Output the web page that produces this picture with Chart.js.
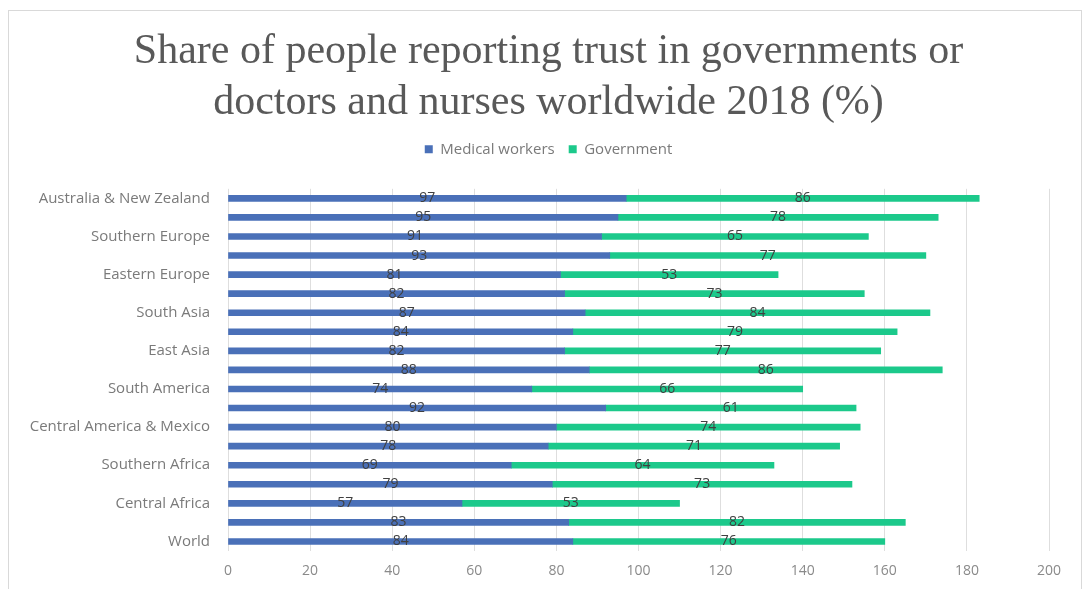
<!DOCTYPE html>
<html>
<head>
<meta charset="utf-8">
<script src="https://cdn.jsdelivr.net/npm/chart.js@4.4.1/dist/chart.umd.min.js"></script>
<style>
  html, body { margin: 0; padding: 0; background: #fff; }
  #wrap { width: 1089px; height: 589px; }
</style>
</head>
<body>
<div id="wrap"><canvas id="trustChart"></canvas></div>
<script>
// Regions (only every other name is printed on the axis, as in the original)
const regions = [
    'Australia & New Zealand', 'Northern Europe', 'Southern Europe', 'Western Europe',
    'Eastern Europe', 'Central Asia', 'South Asia', 'Southeast Asia', 'East Asia',
    'Northern America', 'South America', 'Middle East', 'Central America & Mexico',
    'North Africa', 'Southern Africa', 'Western Africa', 'Central Africa',
    'Eastern Africa', 'World'
];
const medicalWorkers = [97, 95, 91, 93, 81, 82, 87, 84, 82, 88, 74, 92, 80, 78, 69, 79, 57, 83, 84];
const government     = [86, 78, 65, 77, 53, 73, 84, 79, 77, 86, 66, 61, 74, 71, 64, 73, 53, 82, 76];
const xTicks = [0, 20, 40, 60, 80, 100, 120, 140, 160, 180, 200];

const labelFont = '"Open Sans", Lato, sans-serif';

// draws the value in the middle of each bar segment
const centreLabels = {
    id: 'centreLabels',
    afterDatasetsDraw(chart) {
        const ctx = chart.ctx;
        ctx.save();
        ctx.font = '14px ' + labelFont;
        ctx.fillStyle = '#404040';
        ctx.textAlign = 'center';
        ctx.textBaseline = 'middle';
        chart.data.datasets.forEach((ds, i) => {
            chart.getDatasetMeta(i).data.forEach((bar, j) => {
                const p = bar.getProps(['x', 'base', 'y'], true);
                ctx.fillText(ds.data[j], (p.x + p.base) / 2, p.y);
            });
        });
        ctx.restore();
    }
};

// outer frame of the chart
const frame = {
    id: 'frame',
    beforeDraw(chart) {
        const ctx = chart.ctx;
        ctx.save();
        ctx.strokeStyle = '#d9d9d9';
        ctx.lineWidth = 1;
        ctx.strokeRect(8.5, 10.5, 1073, 600);
        ctx.restore();
    }
};

// extra room below the legend, and centre title/legend over the plot a bit more to the right
const legendGap = {
    id: 'legendGap',
    beforeInit(chart) {
        const fit = chart.legend.fit;
        chart.legend.fit = function() {
            fit.bind(chart.legend)();
            this.height += 22;
        };
    },
    afterLayout(chart) {
        chart.titleBlock.left += 38;
        chart.legend.left += 38;
    }
};

const ctx = document.getElementById('trustChart').getContext('2d');
new Chart(ctx, {
    type: 'bar',
    data: {
        labels: regions,
        datasets: [
            {
                label: 'Medical workers',
                data: medicalWorkers,
                backgroundColor: '#4a70b8',
                barThickness: 6
            },
            {
                label: 'Government',
                data: government,
                backgroundColor: '#1cc98b',
                barThickness: 6
            }
        ]
    },
    options: {
        indexAxis: 'y',
        responsive: true,
        maintainAspectRatio: false,
        animation: false,
        layout: { padding: { top: 15, left: 10, right: 40, bottom: 0 } },
        plugins: {
            title: {
                display: true,
                text: ['Share of people reporting trust in governments or',
                       'doctors and nurses worldwide 2018 (%)'],
                color: '#595959',
                font: { family: '"Liberation Serif", serif', size: 42, weight: 'normal', lineHeight: 1.2 },
                padding: { top: 12, bottom: 0 }
            },
            legend: {
                display: true,
                position: 'top',
                labels: {
                    color: '#7a7a7a',
                    font: { family: labelFont, size: 15 },
                    boxWidth: 8,
                    boxHeight: 8,
                    padding: 14
                }
            },
            tooltip: { enabled: false }
        },
        scales: {
            x: {
                stacked: true,
                min: 0,
                max: 200,
                afterBuildTicks(scale) {
                    scale.ticks = xTicks.map(v => ({ value: v }));
                },
                afterFit(scale) { scale.height = 38; },
                grid: { color: '#dedede', drawTicks: false },
                border: { display: false },
                ticks: {
                    color: '#8a8a8a',
                    font: { family: labelFont, size: 14 },
                    padding: 12
                }
            },
            y: {
                stacked: true,
                afterFit(scale) { scale.width = 218; },
                grid: { display: false },
                border: { display: false },
                ticks: {
                    autoSkip: false,
                    color: '#7a7a7a',
                    font: { family: labelFont, size: 15 },
                    padding: 10,
                    callback: function(value, index) {
                        return index % 2 === 0 ? this.getLabelForValue(value) : '';
                    }
                }
            }
        }
    },
    plugins: [centreLabels, frame, legendGap]
});
</script>
</body>
</html>
